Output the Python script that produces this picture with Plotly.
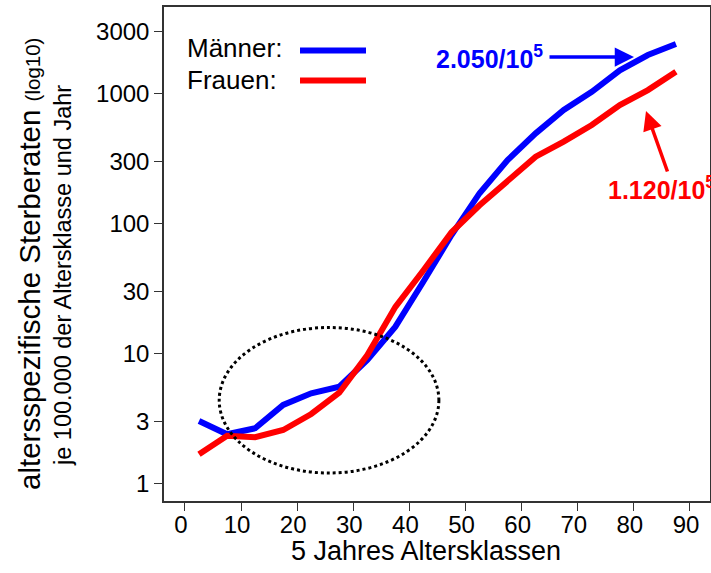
import plotly.graph_objects as go

# ---- data ----
age_mid = [2.5, 7.5, 12.5, 17.5, 22.5, 27.5, 32.5, 37.5, 42.5, 47.5,
           52.5, 57.5, 62.5, 67.5, 72.5, 77.5, 82.5, 87.5]
maenner = [3.05, 2.41, 2.68, 4.05, 4.98, 5.6, 9.0, 16.2, 36, 82,
           172, 309, 496, 750, 1036, 1516, 1983, 2410]
frauen = [1.69, 2.35, 2.29, 2.6, 3.45, 5.03, 9.8, 23, 44, 86,
          139, 211, 328, 428, 575, 819, 1067, 1476]
x_ticks = [0, 10, 20, 30, 40, 50, 60, 70, 80, 90]
y_ticks = [1, 3, 10, 30, 100, 300, 1000, 3000]
y_ticklabels = ["1", "3", "10", "30", "100", "300", "1000", "3000"]

FONT = "Arial, Liberation Sans, sans-serif"
W, H = 711, 573
L, R, T, B = 164, 1, 7, 72
PW, PH = W - L - R, H - T - B


def px(xp):
    return (xp - L) / PW


def py(yp):
    return (H - B - yp) / PH


fig = go.Figure()
fig.add_trace(go.Scatter(x=age_mid, y=maenner, mode="lines", name="Männer",
                         line=dict(color="#0000ff", width=6), showlegend=False))
fig.add_trace(go.Scatter(x=age_mid, y=frauen, mode="lines", name="Frauen",
                         line=dict(color="#ff0000", width=6), showlegend=False))

shapes = [
    dict(type="circle", xref="x", yref="paper", x0=6.1, x1=45.25,
         y0=py(473), y1=py(327.5), line=dict(color="black", width=3, dash="dot")),
    dict(type="line", xref="paper", yref="paper", x0=px(300), x1=px(366),
         y0=py(50.5), y1=py(50.5), line=dict(color="#0000ff", width=6)),
    dict(type="line", xref="paper", yref="paper", x0=px(300), x1=px(366),
         y0=py(80.5), y1=py(80.5), line=dict(color="#ff0000", width=6)),
]

annotations = [
    dict(text="Männer:", xref="paper", yref="paper", x=px(185), y=py(48),
         xanchor="left", yanchor="middle", showarrow=False,
         font=dict(family=FONT, size=26, color="black")),
    dict(text="Frauen:", xref="paper", yref="paper", x=px(185), y=py(80),
         xanchor="left", yanchor="middle", showarrow=False,
         font=dict(family=FONT, size=26, color="black")),
    dict(text="altersspezifische Sterberaten <span style='font-size:20.5px'>(log10)</span>",
         xref="paper", yref="paper", x=px(29), y=py(264), textangle=-90,
         xanchor="center", yanchor="middle", showarrow=False,
         font=dict(family=FONT, size=29.5, color="black")),
    dict(text="je 100.000 der Altersklasse und Jahr",
         xref="paper", yref="paper", x=px(63), y=py(276), textangle=-90,
         xanchor="center", yanchor="middle", showarrow=False,
         font=dict(family=FONT, size=23.5, color="black")),
    dict(text="", xref="paper", yref="paper", x=px(634), y=py(57),
         ax=548 - 634, ay=0, axref="pixel", ayref="pixel", showarrow=True,
         arrowhead=2, arrowsize=1.1, arrowwidth=3.5, arrowcolor="#0000ff"),
    dict(text="<b>2.050/10<sup>5</sup></b>", xref="paper", yref="paper",
         x=px(434), y=py(57), xanchor="left", yanchor="middle", showarrow=False,
         font=dict(family=FONT, size=25, color="#0000ff")),
    dict(text="", xref="paper", yref="paper", x=px(646), y=py(111),
         ax=22, ay=62, axref="pixel", ayref="pixel", showarrow=True,
         arrowhead=2, arrowsize=1.1, arrowwidth=3.5, arrowcolor="#ff0000"),
    dict(text="<b>1.120/10<sup>5</sup></b>", xref="paper", yref="paper",
         x=px(606), y=py(188), xanchor="left", yanchor="middle", showarrow=False,
         font=dict(family=FONT, size=25, color="#ff0000")),
    dict(text="5 Jahres Altersklassen", xref="paper", yref="paper",
         x=px(426), y=py(551), xanchor="center", yanchor="middle", showarrow=False,
         font=dict(family=FONT, size=27, color="black")),
]

fig.update_layout(
    width=W, height=H,
    margin=dict(l=L, r=R, t=T, b=B, pad=0, autoexpand=False),
    plot_bgcolor="white", paper_bgcolor="white",
    font=dict(family=FONT, color="black"),
    shapes=shapes, annotations=annotations,
    xaxis=dict(range=[-3.74, 93.57], tickvals=x_ticks, ticks="outside", ticklen=8,
               tickwidth=1, tickcolor="#333", showline=True, linecolor="#333",
               linewidth=1.5, mirror=True, showgrid=False, zeroline=False,
               automargin=False, ticklabelstandoff=-7, ticklabelshift=-4,
               tickfont=dict(family=FONT, size=24, color="black")),
    yaxis=dict(type="log", range=[-0.131, 3.667], tickvals=y_ticks,
               ticktext=y_ticklabels, ticks="outside", ticklen=8, tickwidth=1,
               tickcolor="#333", showline=True, linecolor="#333", linewidth=1.5,
               mirror=True, showgrid=False, zeroline=False, automargin=False,
               tickfont=dict(family=FONT, size=24, color="black")),
)

fig.write_html(
    "out.html",
    config={"displayModeBar": False},
    post_script="document.body.style.margin='0';document.body.style.padding='0';"
                "document.documentElement.style.overflow='hidden';",
)
